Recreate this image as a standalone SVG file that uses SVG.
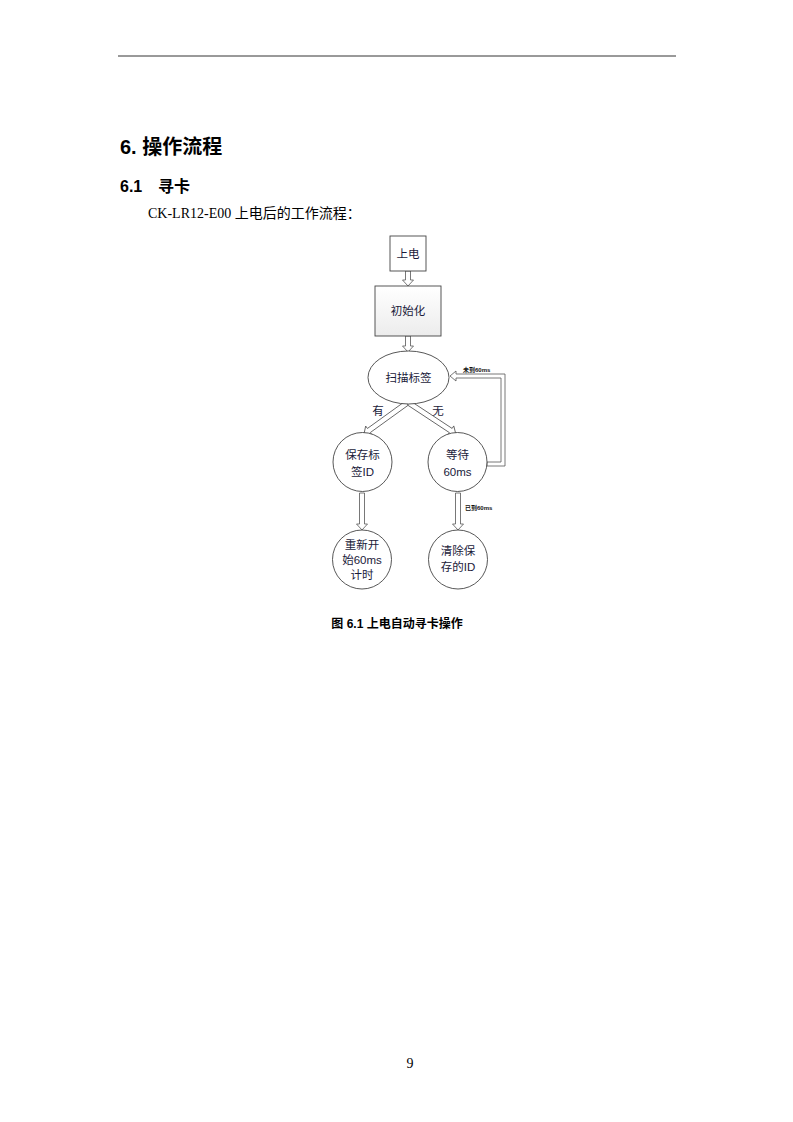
<svg xmlns="http://www.w3.org/2000/svg" width="793" height="1122" viewBox="0 0 793 1122">
<defs>
<linearGradient id="gbox" x1="0" y1="0" x2="0" y2="1">
<stop offset="0" stop-color="#ffffff"/>
<stop offset="1" stop-color="#ececec"/>
</linearGradient>
<style>
.node{fill:#fff;stroke:#444;stroke-width:0.9}
.arr{fill:#fff;stroke:#555;stroke-width:0.8;stroke-linejoin:miter}
.lbl{font-family:"Liberation Sans","Noto Sans CJK SC",sans-serif;font-size:11.5px;fill:#1a1a3a;text-anchor:middle}
.small{font-family:"Liberation Sans","Noto Sans CJK SC",sans-serif;font-size:6px;font-weight:bold;fill:#111}
.body{font-family:"Liberation Serif","Noto Sans CJK SC",serif;font-size:14px;fill:#000}
.head{font-family:"Liberation Sans","Noto Sans CJK SC",sans-serif;font-weight:bold;fill:#000}
</style>
</defs>
<rect width="793" height="1122" fill="#fff"/>
<line x1="118" y1="56" x2="676" y2="56" stroke="#000" stroke-width="0.8"/>
<text x="120" y="154" class="head" font-size="20">6. 操作流程</text>
<text x="120" y="192" class="head" font-size="16">6.1</text>
<text x="158" y="192" class="head" font-size="16">寻卡</text>
<text x="148" y="218" class="body">CK-LR12-E00 上电后的工作流程：</text>

<g id="connectors">
<polygon class="arr" points="405.5,271 410.5,271 410.5,280 413.5,280 408,286 402.5,280 405.5,280"/>
<polygon class="arr" points="405.5,336 410.5,336 410.5,346 413.5,346 408,352 402.5,346 405.5,346"/>
<g transform="translate(407,403) rotate(144.2)">
<polygon class="arr" points="0,-2.5 47,-2.5 47,-5.5 53,0 47,5.5 47,2.5 0,2.5"/>
</g>
<g transform="translate(409,403) rotate(33.4)">
<polygon class="arr" points="0,-2.5 50,-2.5 50,-5.5 56,0 50,5.5 50,2.5 0,2.5"/>
</g>
<polygon class="arr" points="487,462 501,462 501,378 456,378 456,381 450,376 456,371 456,374 505,374 505,466 487,466"/>
<polygon class="arr" points="359.5,493 364.5,493 364.5,524 367.5,524 362,530 356.5,524 359.5,524"/>
<polygon class="arr" points="455.5,493 460.5,493 460.5,524 463.5,524 458,530 452.5,524 455.5,524"/>
<text x="378" y="415" class="lbl" font-size="11">有</text>
<text x="438" y="415" class="lbl" font-size="11">无</text>
<text x="463" y="372" class="small">未到60ms</text>
<text x="465" y="510" class="small">已到60ms</text>
</g>

<g id="n_power">
<rect x="390" y="236" width="36" height="35" class="node"/>
<text x="408" y="258" class="lbl">上电</text>
</g>
<g id="n_init">
<rect x="375" y="286" width="66" height="50" fill="url(#gbox)" stroke="#444" stroke-width="0.9"/>
<text x="408" y="315" class="lbl">初始化</text>
</g>
<g id="n_scan">
<ellipse cx="408.5" cy="377.5" rx="40.5" ry="26.5" class="node"/>
<text x="408.5" y="382" class="lbl">扫描标签</text>
</g>
<g id="n_save">
<circle cx="362.5" cy="462" r="29.5" class="node"/>
<text x="362.5" y="459" class="lbl">保存标</text>
<text x="362.5" y="476" class="lbl">签ID</text>
</g>
<g id="n_wait">
<circle cx="457.5" cy="462" r="29.5" class="node"/>
<text x="457.5" y="459" class="lbl">等待</text>
<text x="457.5" y="476" class="lbl">60ms</text>
</g>
<g id="n_restart">
<circle cx="362" cy="559.5" r="29.5" class="node"/>
<text x="362" y="549" class="lbl">重新开</text>
<text x="362" y="564" class="lbl">始60ms</text>
<text x="362" y="579" class="lbl">计时</text>
</g>
<g id="n_clear">
<circle cx="458" cy="559.5" r="29.5" class="node"/>
<text x="458" y="555" class="lbl">清除保</text>
<text x="458" y="571" class="lbl">存的ID</text>
</g>

<text x="397" y="628" class="head" font-size="12" text-anchor="middle">图 6.1 上电自动寻卡操作</text>
<text x="410" y="1068" class="body" font-size="14" text-anchor="middle">9</text>
</svg>
